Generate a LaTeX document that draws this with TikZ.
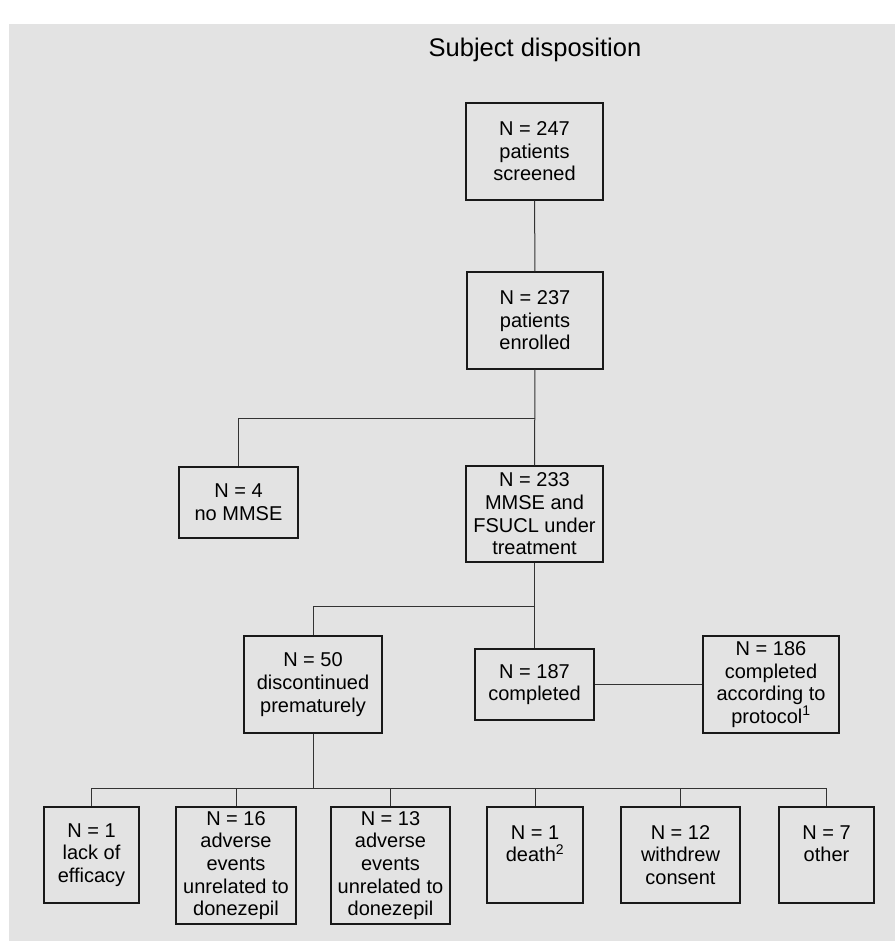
\documentclass[tikz,border=0pt]{standalone}
\usepackage{fontspec}
\setmainfont{Liberation Sans}
\usepackage{tikz}

\begin{document}
\begin{tikzpicture}[x=1pt, y=-1pt,
    box/.style={draw=black!90, line width=1.4pt, inner sep=0pt, align=center,
        font=\fontsize{20}{22.6}\selectfont},
    link/.style={draw=black!80, line width=1pt}]
            % background and page size
            \fill[black!11] (9,24) rectangle (895,941);
            \useasboundingbox (0,0) rectangle (895,942);
            \node[anchor=base, font=\fontsize{25.5}{30}\selectfont] (title) at (535,57) {Subject disposition};
            \node[box, minimum width=137, minimum height=97] (scr) at (534.5,151.5) {N = 247\\ patients\\ screened};
            \node[box, minimum width=136, minimum height=97] (enr) at (535,320.5) {N = 237\\ patients\\ enrolled};
            \node[box, minimum width=119, minimum height=71] (nomm) at (238.5,502.5) {N = 4\\ no MMSE};
            \node[box, minimum width=137, minimum height=96] (mmse) at (534.5,514) {N = 233\\ MMSE and\\ FSUCL under\\ treatment};
            \node[box, minimum width=138, minimum height=97] (disc) at (313,684.5) {N = 50\\ discontinued\\ prematurely};
            \node[box, minimum width=119, minimum height=71] (compl) at (534.5,684.5) {N = 187\\ completed};
            \node[box, minimum width=136, minimum height=97] (prot) at (771,684.5) {N = 186\\ completed\\ according to\\ protocol\textsuperscript{1}};
            \node[box, minimum width=95, minimum height=96] (lack) at (91.5,855) {N = 1\\ lack of\\ efficacy};
            \node[box, minimum width=120, minimum height=117] (adv16) at (236,865.5) {N = 16\\ adverse\\ events\\ unrelated to\\ donezepil};
            \node[box, minimum width=119, minimum height=117] (adv13) at (390.5,865.5) {N = 13\\ adverse\\ events\\ unrelated to\\ donezepil};
            \node[box, minimum width=96, minimum height=96] (death) at (535,855) {N = 1\\ death\textsuperscript{2}\\ \mbox{}};
            \node[box, minimum width=119, minimum height=96] (wdr) at (680.5,855) {N = 12\\ withdrew\\ consent};
            \node[box, minimum width=95, minimum height=96] (other) at (826.5,855) {N = 7\\ other\\ \mbox{}};
            \coordinate (s1) at (535,418);
            \coordinate (s2) at (535,606);
            \coordinate (s3) at (313,788);
            \draw[link] (scr) -- (enr);
            \draw[link] (enr) -- (mmse);
            \draw[link] (s1) -| (nomm);
            \draw[link] (mmse) -- (compl);
            \draw[link] (s2) -| (disc);
            \draw[link] (compl) -- (prot);
            \draw[link] (disc) -- (s3);
            \draw[link] (s3) -| (lack);
            \draw[link] (s3) -| (adv16);
            \draw[link] (s3) -| (adv13);
            \draw[link] (s3) -| (death);
            \draw[link] (s3) -| (wdr);
            \draw[link] (s3) -| (other);
        \end{tikzpicture}
\end{document}
